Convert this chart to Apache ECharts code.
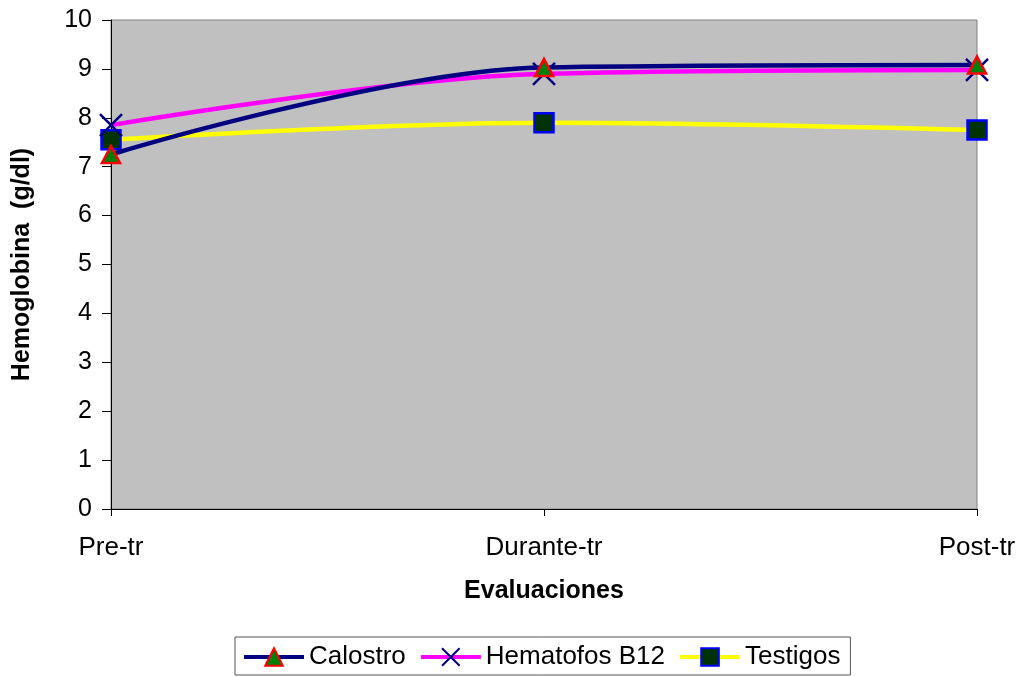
<!DOCTYPE html>
<html>
<head>
<meta charset="utf-8">
<script src="https://cdn.jsdelivr.net/npm/echarts@6/dist/echarts.min.js"></script>
<style>
html,body{margin:0;padding:0;background:#fff;}
#c{width:1023px;height:677px;}
</style>
</head>
<body>
<div id="c"></div>
<script>
const categories = ['Pre-tr', 'Durante-tr', 'Post-tr'];
const calostro = [7.25, 9.03, 9.08];
const hematofos = [7.85, 8.9, 8.98];
const testigos = [7.55, 7.9, 7.75];
const yTicks = [0, 1, 2, 3, 4, 5, 6, 7, 8, 9, 10];

const FONT = 'Arial, "Liberation Sans", sans-serif';
const xPath = 'path://M0,0 L10,10 M10,0 L0,10';

const chart = echarts.init(document.getElementById('c'), null, {renderer: 'canvas'});
chart.setOption({
  backgroundColor: '#ffffff',
  animation: false,
  textStyle: {fontFamily: FONT, color: '#000'},
  grid: {
    left: 111, right: 46, top: 20, bottom: 168,
    show: true, backgroundColor: '#c0c0c0', borderColor: '#808080', borderWidth: 1
  },
  legend: {
    left: 235, top: 637, width: 618, height: 26,
    padding: [7, 10, 5, 7],
    borderColor: '#555', borderWidth: 1,
    itemWidth: 60, itemHeight: 22, itemGap: 13,
    lineStyle: {width: 4},
    textStyle: {fontFamily: FONT, fontSize: 26, color: '#000'},
    data: ['Calostro', 'Hematofos B12', 'Testigos']
  },
  xAxis: {
    type: 'category', data: categories, boundaryGap: false,
    name: 'Evaluaciones', nameLocation: 'middle', nameGap: 70,
    nameTextStyle: {fontFamily: FONT, fontSize: 25, fontWeight: 'bold', color: '#000'},
    axisLine: {show: true, lineStyle: {color: '#000', width: 1}},
    axisTick: {show: true, length: 7, alignWithLabel: true, lineStyle: {color: '#000'}},
    axisLabel: {fontFamily: FONT, fontSize: 26, color: '#000', margin: 26},
    splitLine: {show: false}
  },
  yAxis: {
    type: 'value', min: 0, max: 10, interval: 1,
    name: 'Hemoglobina  (g/dl)', nameLocation: 'middle', nameGap: 76, nameRotate: 90,
    nameTextStyle: {fontFamily: FONT, fontSize: 25, fontWeight: 'bold', color: '#000'},
    axisLine: {show: true, lineStyle: {color: '#000', width: 1}},
    axisTick: {show: true, length: 9, lineStyle: {color: '#000'}},
    axisLabel: {fontFamily: FONT, fontSize: 25, color: '#000', margin: 19,
      formatter: v => yTicks.includes(v) ? String(v) : ''},
    splitLine: {show: false}
  },
  series: [
    {
      name: 'Calostro', type: 'line', data: calostro, smooth: 0.35,
      symbol: 'triangle', symbolSize: [18, 17],
      lineStyle: {color: '#000080', width: 4.5},
      itemStyle: {color: '#008000', borderColor: '#ff0000', borderWidth: 2.5},
      z: 4
    },
    {
      name: 'Hematofos B12', type: 'line', data: hematofos, smooth: 0.35,
      symbol: xPath, symbolSize: [22, 22],
      lineStyle: {color: '#ff00ff', width: 4.5},
      itemStyle: {color: 'rgba(0,0,0,0)', borderColor: '#000080', borderWidth: 2.5},
      z: 3
    },
    {
      name: 'Testigos', type: 'line', data: testigos, smooth: 0.35,
      symbol: 'rect', symbolSize: [19, 19],
      lineStyle: {color: '#ffff00', width: 4.5},
      itemStyle: {color: '#003300', borderColor: '#0000ff', borderWidth: 2.5},
      z: 2
    }
  ]
});
</script>
</body>
</html>
